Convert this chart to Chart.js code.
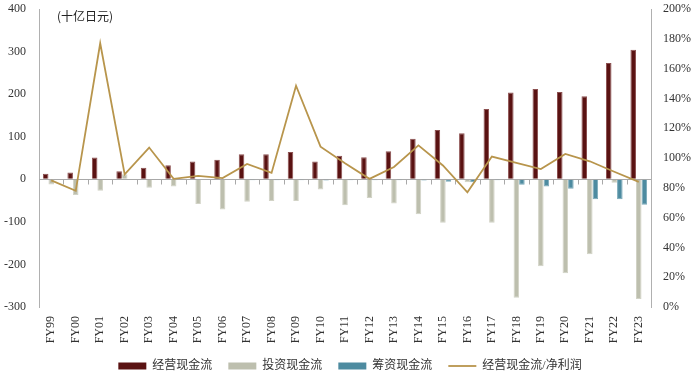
<!DOCTYPE html>
<html>
<head>
<meta charset="utf-8">
<script src="https://cdn.jsdelivr.net/npm/chart.js@4"></script>
<style>
  html, body { margin: 0; padding: 0; background: #fff; }
  #wrap { width: 700px; height: 386px; position: relative; }
</style>
</head>
<body>
<div id="wrap"><canvas id="cfChart"></canvas></div>
<script>
// 财年
const years = ['FY99','FY00','FY01','FY02','FY03','FY04','FY05','FY06','FY07','FY08','FY09','FY10','FY11','FY12','FY13','FY14','FY15','FY16','FY17','FY18','FY19','FY20','FY21','FY22','FY23'];
// 十亿日元
const operatingCF = [13, 16, 51, 19, 27, 33, 42, 46, 59, 59, 64, 42, 55, 52, 66, 95, 116, 108, 165, 204, 212, 205, 195, 273, 304];
const investingCF = [-12, -37, -27, 12, -20, -17, -58, -71, -53, -51, -51, -24, -61, -44, -57, -82, -102, -7, -102, -278, -204, -221, -176, -8, -281];
const financingCF = [-1, -1, -1, -1, -1, -1, -1, -1, -2, -2, -2, -3, -2, -2, -2, -3, -6, -7, -2, -13, -17, -22, -47, -47, -60];
// 经营现金流/净利润 (%)
const cfToProfit = [85, 78, 177, 89, 107, 86, 88, 86.5, 96, 90, 148.5, 107.6, 96.4, 86, 94, 108.5, 95, 77, 101, 96.8, 92.6, 102.7, 97.8, 90.8, 84];

const serif = '"Liberation Serif", "DejaVu Serif", serif';
const cjk = '"Liberation Serif", "Noto Sans CJK SC", serif';

// zero line with small ticks + unit label
const extras = {
  id: 'extras',
  beforeDatasetsDraw(chart) {
    const c = chart.ctx, x = chart.scales.x, y = chart.scales.y;
    const area = chart.chartArea;
    const y0 = Math.round(y.getPixelForValue(0)) + 0.5;
    c.save();
    c.strokeStyle = '#a8a8a8';
    c.lineWidth = 1;
    c.beginPath();
    c.moveTo(area.left, y0);
    c.lineTo(area.right, y0);
    for (let i = 1; i < years.length; i++) {
      const px = Math.round((x.getPixelForValue(i - 1) + x.getPixelForValue(i)) / 2) + 0.5;
      c.moveTo(px, y0);
      c.lineTo(px, y0 + 5);
    }
    c.stroke();
    c.fillStyle = '#222';
    c.font = '12px "Noto Sans CJK SC", sans-serif';
    c.textBaseline = 'middle';
    c.fillText('(十亿日元)', area.left + 18, 16);
    c.restore();
  }
};

// y axes: label offset via invisible tick marks so top padding stays small
const hiddenGrid = len => ({ display: true, drawOnChartArea: false, drawTicks: true, tickLength: len, tickColor: 'rgba(0,0,0,0)' });

new Chart(document.getElementById('cfChart'), {
  data: {
    labels: years,
    datasets: [
      { type: 'bar', label: '经营现金流', data: operatingCF, yAxisID: 'y', order: 1,
        backgroundColor: '#5a1212', borderColor: '#8c5050', borderWidth: 1 },
      { type: 'bar', label: '投资现金流', data: investingCF, yAxisID: 'y', order: 1,
        backgroundColor: '#bdbfae', borderColor: '#d2d3c6', borderWidth: 1 },
      { type: 'bar', label: '筹资现金流', data: financingCF, yAxisID: 'y', order: 1,
        backgroundColor: '#4d8ba0', borderColor: '#79a9b8', borderWidth: 1 },
      { type: 'line', label: '经营现金流/净利润', data: cfToProfit, yAxisID: 'y1', order: 0,
        borderColor: '#b8954c', backgroundColor: '#b8954c', borderWidth: 1.8,
        pointRadius: 0, tension: 0 }
    ]
  },
  options: {
    responsive: true,
    maintainAspectRatio: false,
    animation: false,
    layout: { padding: { top: 9, bottom: 4, left: 0, right: 0 } },
    datasets: { bar: { categoryPercentage: 0.68, barPercentage: 1.0 } },
    scales: {
      x: {
        position: 'bottom',
        grid: { display: false, drawTicks: false },
        border: { display: false },
        ticks: { minRotation: 90, maxRotation: 90, padding: 9, color: '#333', font: { family: serif, size: 12 } },
        afterFit(s) { s.height = 37; }
      },
      y: {
        position: 'left',
        min: -300, max: 400,
        grid: hiddenGrid(13),
        border: { display: true, color: '#b0b0b0' },
        ticks: { stepSize: 100, padding: 0, color: '#333', font: { family: serif, size: 12 } },
        afterFit(s) { s.width = 39; }
      },
      y1: {
        position: 'right',
        min: 0, max: 200,
        grid: hiddenGrid(12),
        border: { display: true, color: '#b0b0b0' },
        ticks: { stepSize: 20, padding: 0, color: '#333', font: { family: serif, size: 12 },
          callback: v => v + '%' },
        afterFit(s) { s.width = 49; }
      }
    },
    plugins: {
      tooltip: { enabled: false },
      legend: {
        position: 'bottom',
        labels: {
          usePointStyle: true,
          pointStyleWidth: 28,
          boxHeight: 7,
          padding: 16,
          color: '#333',
          font: { family: cjk, size: 12 },
          generateLabels(chart) {
            const items = Chart.defaults.plugins.legend.labels.generateLabels(chart);
            items.sort((a, b) => a.datasetIndex - b.datasetIndex);
            items.forEach(it => {
              if (it.datasetIndex === 3) { it.pointStyle = 'line'; it.lineWidth = 1.8; }
              else { it.pointStyle = 'rect'; it.lineWidth = 0; }
            });
            return items;
          }
        }
      }
    }
  },
  plugins: [extras]
});
</script>
</body>
</html>
